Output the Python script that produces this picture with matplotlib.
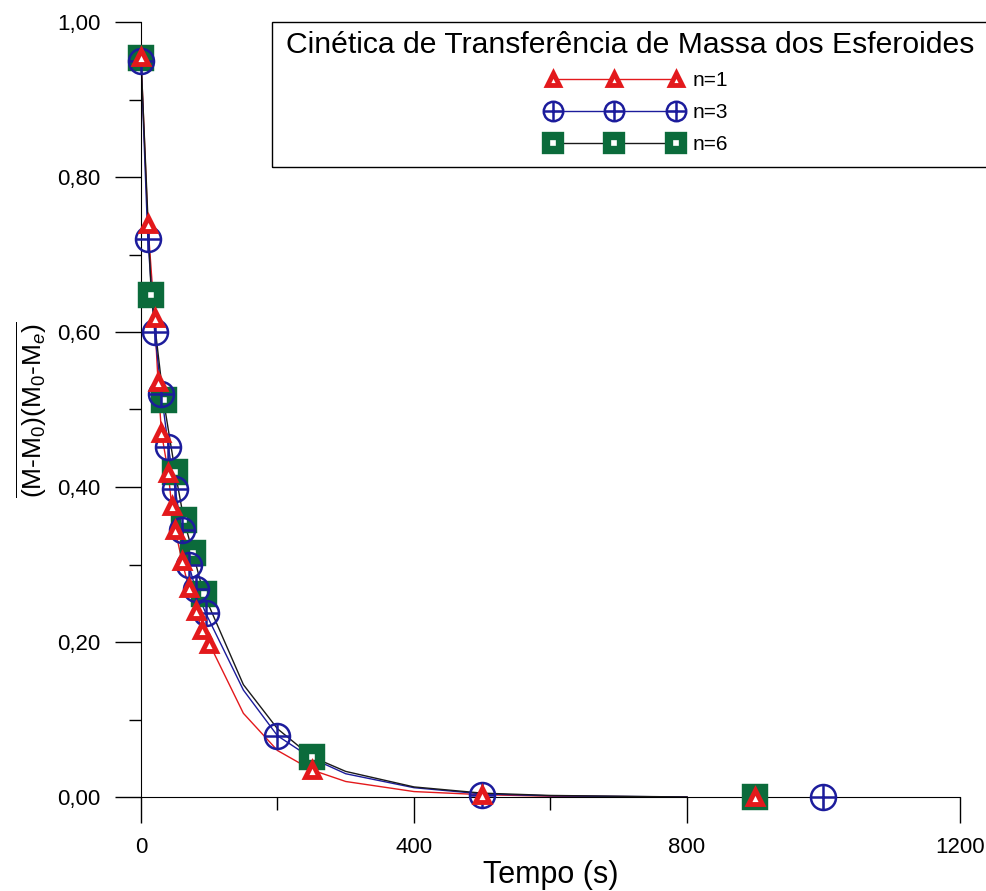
import numpy as np
import matplotlib
matplotlib.use('Agg')
import matplotlib.pyplot as plt
from matplotlib.lines import Line2D
from matplotlib.patches import Rectangle
from matplotlib.legend_handler import HandlerTuple
from matplotlib.ticker import FuncFormatter, MultipleLocator

plt.rcParams['font.family'] = ['Liberation Sans', 'DejaVu Sans']
plt.rcParams['mathtext.fontset'] = 'custom'
plt.rcParams['mathtext.rm'] = 'Liberation Sans'
plt.rcParams['mathtext.it'] = 'Liberation Sans:italic'

# experimental points (markers)
t_n1 = [0, 10, 20, 25, 30, 40, 45, 50, 60, 70, 80, 90, 100, 250, 500, 900]
y_n1 = [0.955, 0.74, 0.618, 0.535, 0.47, 0.418, 0.375, 0.345, 0.305, 0.27, 0.24, 0.215, 0.198, 0.035, 0.003, 0.0]

t_n3 = [0, 10, 20, 30, 40, 50, 60, 70, 80, 95, 200, 500, 1000]
y_n3 = [0.95, 0.72, 0.60, 0.52, 0.452, 0.397, 0.345, 0.30, 0.268, 0.237, 0.079, 0.003, 0.0]

t_n6 = [0, 15, 33, 50, 63, 76, 92, 250, 900]
y_n6 = [0.953, 0.648, 0.512, 0.42, 0.357, 0.315, 0.262, 0.052, 0.0]

# model curves (lines)
tl_n1 = [0, 10, 20, 25, 30, 40, 45, 50, 60, 70, 80, 90, 100, 150, 200, 250, 300, 400, 500, 600, 800]
yl_n1 = [0.955, 0.74, 0.618, 0.535, 0.47, 0.418, 0.375, 0.345, 0.305, 0.27, 0.24, 0.215, 0.198,
         0.108, 0.06, 0.035, 0.02, 0.007, 0.003, 0.001, 0.0]

tl_n3 = [0, 10, 20, 30, 40, 50, 60, 70, 80, 95, 150, 200, 250, 300, 400, 500, 600, 800]
yl_n3 = [0.95, 0.72, 0.60, 0.52, 0.452, 0.397, 0.345, 0.30, 0.268, 0.237,
         0.138, 0.079, 0.05, 0.03, 0.012, 0.004, 0.0015, 0.0]

tl_n6 = [0, 15, 33, 50, 63, 76, 92, 150, 200, 250, 300, 400, 500, 600, 800]
yl_n6 = [0.953, 0.648, 0.512, 0.42, 0.357, 0.315, 0.262,
         0.145, 0.088, 0.052, 0.033, 0.013, 0.005, 0.002, 0.0]

labels = ['n=1', 'n=3', 'n=6']
legend_title = 'Cinética de Transferência de Massa dos Esferoides'
red = '#e3191c'
blue = '#1c1c9c'
green = '#0b6b3b'
dark = '#1a1a1a'

W, H = 987, 891
fig = plt.figure(figsize=(W/100, H/100), dpi=100)
ax = fig.add_axes([141/W, 1-797/H, (960-141)/W, (797-22)/H])

ax.plot(tl_n1, yl_n1, color=red, lw=1.0, zorder=2)
ax.plot(tl_n3, yl_n3, color=blue, lw=1.0, zorder=2)
ax.plot(tl_n6, yl_n6, color=dark, lw=1.0, zorder=2)

ax.plot(t_n6, y_n6, ls='none', marker='s', ms=12, mew=7.5, mec=green, mfc='white',
        clip_on=False, zorder=3)
ax.plot(t_n3, y_n3, ls='none', marker='o', ms=18, mew=1.8, mec=blue, mfc='none',
        clip_on=False, zorder=4)
ax.plot(t_n3, y_n3, ls='none', marker='+', ms=18, mew=1.8, mec=blue,
        clip_on=False, zorder=4)
ax.plot(t_n1, y_n1, ls='none', marker='^', ms=10, mew=3.5, mec=red, mfc='white',
        clip_on=False, zorder=5)

ax.set_xlim(0, 1200)
ax.set_ylim(0, 1.0)
ax.spines['top'].set_visible(False)
ax.spines['right'].set_visible(False)
ax.xaxis.set_major_locator(MultipleLocator(400))
ax.xaxis.set_minor_locator(MultipleLocator(200))
ax.yaxis.set_major_locator(MultipleLocator(0.2))
ax.yaxis.set_minor_locator(MultipleLocator(0.1))
ax.yaxis.set_major_formatter(FuncFormatter(lambda v, p: f'{v:.2f}'.replace('.', ',')))
ax.tick_params(which='major', length=19, width=1, labelsize=16, pad=10)
ax.tick_params(which='minor', length=9, width=1)

ax.set_xlabel('Tempo (s)', fontsize=22, labelpad=1)
ax.set_ylabel(r'$\overline{(\mathrm{M}\text{-}\mathrm{M}_0)(\mathrm{M}_0\text{-}\mathrm{M}_e)}$',
              fontsize=19, labelpad=6)

# legend box: frame + title + entries
fig.patches.append(Rectangle((272/W, 1-167/H), (1000-272)/W, (167-22)/H,
                             transform=fig.transFigure, fill=False, ec='black', lw=1.0))
fig.text(630/W, 1-45/H, legend_title, ha='center', va='center', fontsize=21.7)

h1 = Line2D([], [], color=red, lw=1.0, marker='^', ms=9, mew=3.5, mec=red, mfc='white')
h3a = Line2D([], [], color=blue, lw=1.0, marker='o', ms=14, mew=1.8, mec=blue, mfc='none')
h3b = Line2D([], [], color=blue, lw=0, marker='+', ms=14, mew=1.8, mec=blue)
h6 = Line2D([], [], color=dark, lw=1.0, marker='s', ms=10, mew=6, mec=green, mfc='white')

fig.legend([h1, (h3a, h3b), h6], labels,
           handler_map={tuple: HandlerTuple(ndivide=1)},
           fontsize=15, numpoints=3,
           handlelength=6.47, handletextpad=0.53, labelspacing=0.62,
           loc='upper left', bbox_to_anchor=(547/W, 1-71/H),
           borderaxespad=0, borderpad=0, frameon=False)

fig.savefig('out.png', dpi=100)
